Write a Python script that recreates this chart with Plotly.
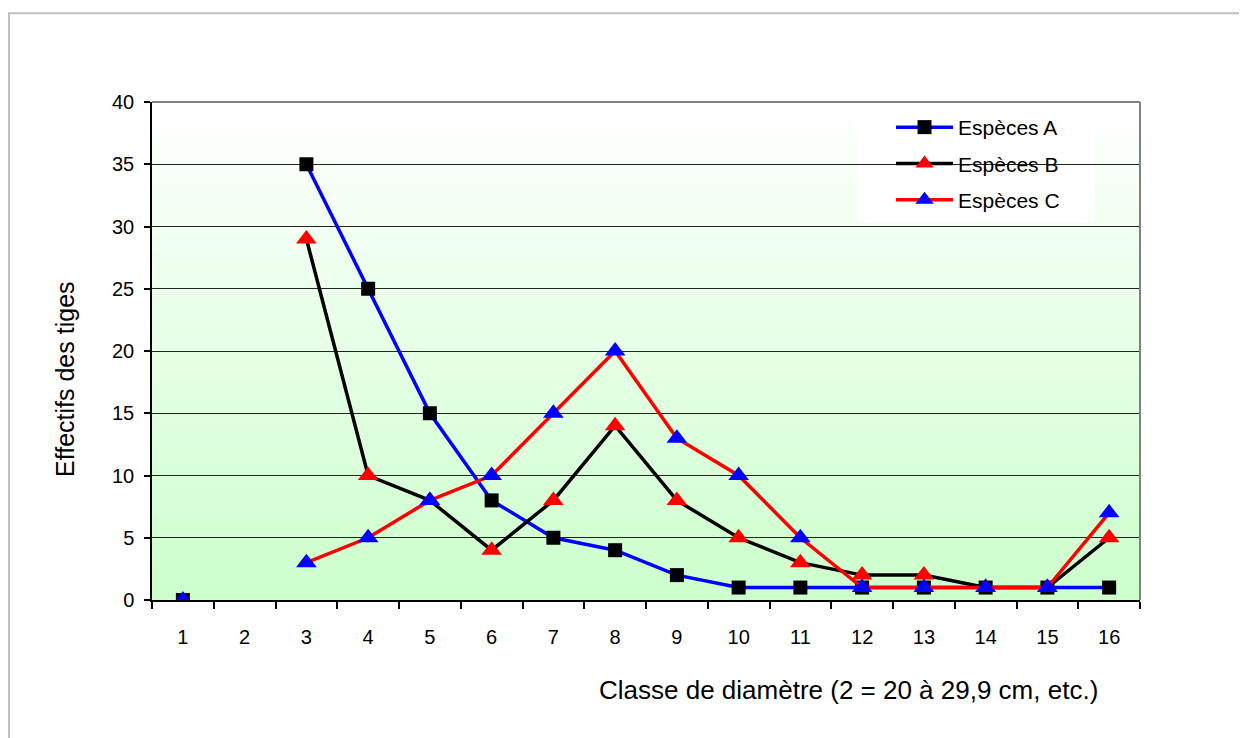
import plotly.graph_objects as go

# --- data ---
classes = list(range(1, 17))
especes_a = [0, None, 35, 25, 15, 8, 5, 4, 2, 1, 1, 1, 1, 1, 1, 1]
especes_b = [None, None, 29, 10, 8, 4, 8, 14, 8, 5, 3, 2, 2, 1, 1, 5]
especes_c = [0, None, 3, 5, 8, 10, 15, 20, 13, 10, 5, 1, 1, 1, 1, 7]
y_ticks = list(range(0, 45, 5))

FONT = 'Liberation Sans, Arial, sans-serif'

fig = go.Figure()

fig.add_trace(go.Scatter(
    x=classes, y=especes_a, name='Espèces A', mode='lines+markers', legendgroup='a',
    line=dict(color='#0000ff', width=3.5),
    marker=dict(symbol='square', size=14, color='#000000'),
))
fig.add_trace(go.Scatter(
    x=classes, y=especes_b, name='Espèces B', mode='lines+markers', legendgroup='b',
    line=dict(color='#000000', width=3.5),
    marker=dict(symbol='triangle-up', size=18, color='#ff0000'),
))
fig.add_trace(go.Scatter(
    x=classes, y=especes_c, name='Espèces C', mode='lines+markers', legendgroup='c',
    line=dict(color='#ff0000', width=3.5),
    marker=dict(symbol='triangle-up', size=18, color='#0000ff'),
))

# --- gradient background (white at top -> pale green at bottom) ---
n_bands = 120
bottom_rgb = (204, 255, 204)
shapes = []
for i in range(n_bands):
    t = (i + 0.5) / n_bands  # 0 at bottom, 1 at top
    r = round(bottom_rgb[0] + (255 - bottom_rgb[0]) * t)
    g = round(bottom_rgb[1] + (255 - bottom_rgb[1]) * t)
    b = round(bottom_rgb[2] + (255 - bottom_rgb[2]) * t)
    shapes.append(dict(
        type='rect', xref='x domain', yref='y domain',
        x0=0, x1=1, y0=i / n_bands, y1=(i + 1) / n_bands + 0.002,
        fillcolor=f'rgb({r},{g},{b})', line_width=0, layer='below',
    ))

# white box behind the legend (hides gridlines)
shapes.append(dict(
    type='rect', xref='paper', yref='paper',
    x0=0.7146, x1=0.9545, y0=0.759, y1=0.996,
    fillcolor='white', line_width=0, layer='between',
))
# plot-area frame (grey top and right)
shapes.append(dict(type='line', xref='x domain', yref='y domain',
                   x0=0, x1=1, y0=1, y1=1, line=dict(color='#808080', width=2), layer='above'))
shapes.append(dict(type='line', xref='x domain', yref='y domain',
                   x0=1, x1=1, y0=0, y1=1, line=dict(color='#808080', width=2), layer='above'))
# outer chart border (runs off the canvas right and bottom)
shapes.append(dict(type='rect', xref='paper', yref='paper',
                   x0=-0.1448, x1=1.2, y0=-0.4, y1=1.178,
                   line=dict(color='#bfbfbf', width=2), fillcolor='rgba(0,0,0,0)', layer='above'))

fig.update_layout(
    width=1239, height=730,
    paper_bgcolor='white', plot_bgcolor='white',
    margin=dict(l=144, r=107, t=94, b=138),
    font=dict(family=FONT, color='black', size=20),
    showlegend=True,
    legend=dict(
        x=0.748, y=0.99, xanchor='left', yanchor='top',
        bgcolor='rgba(0,0,0,0)', borderwidth=0,
        font=dict(size=21, family=FONT), itemwidth=57,
        tracegroupgap=6,
    ),
    shapes=shapes,
    annotations=[
        dict(text='Effectifs des tiges', textangle=-90,
             x=-0.088, y=0.442, xref='paper', yref='paper',
             xanchor='center', yanchor='middle', showarrow=False,
             font=dict(size=25, family=FONT)),
        dict(text='Classe de diamètre (2 = 20 à 29,9 cm, etc.)',
             x=0.7049, y=-0.1807, xref='paper', yref='paper',
             xanchor='center', yanchor='middle', showarrow=False,
             font=dict(size=26, family=FONT)),
    ],
)

fig.update_xaxes(
    range=[0.5, 16.5], tickmode='array', tickvals=classes,
    ticktext=[str(c) for c in classes], ticks='', ticklabelstandoff=18,
    showgrid=False, zeroline=False,
    showline=True, linecolor='black', linewidth=1.5,
    minor=dict(tickmode='array', tickvals=[c - 0.5 for c in classes] + [classes[-1] + 0.5],
               ticks='outside', ticklen=7, tickcolor='black', tickwidth=1.5, showgrid=False),
)
fig.update_yaxes(
    range=[0, 40], tickmode='array', tickvals=y_ticks,
    ticks='outside', ticklen=6, tickcolor='black', tickwidth=1.5,
    ticklabelstandoff=6,
    showgrid=True, gridcolor='#222222', gridwidth=1, zeroline=False,
    showline=True, linecolor='black', linewidth=1.5,
)

fig.write_html('out.html')
